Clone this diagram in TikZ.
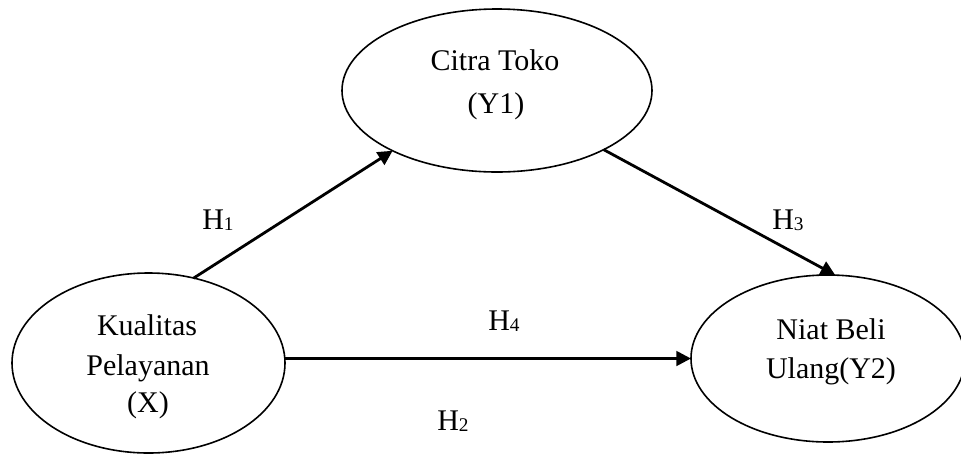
\documentclass[tikz,border=0pt]{standalone}
\usepackage{fontspec}
\setmainfont{Liberation Serif}
\usetikzlibrary{arrows.meta,shapes.geometric}
% hypothesis label: H with a small, slightly lowered index
\newcommand\hlab[1]{H\raisebox{-1.2pt}{\fontsize{14.5}{15}\selectfont #1}}
\begin{document}
\begin{tikzpicture}[x=0.75pt,y=-0.75pt,
  latent/.style={draw, ellipse, line width=1.2pt, inner sep=0pt, outer sep=0pt},
  link/.style={line width=2.1pt, -{Triangle[length=11pt,width=11pt]}},
  txt/.style={anchor=base, inner sep=0pt, font=\fontsize{22.5}{30}\selectfont},
  hyp/.style={anchor=base west, inner sep=0pt, font=\fontsize{22.5}{30}\selectfont},
]
\useasboundingbox (0,0) rectangle (961,455);

% constructs
\node[latent, minimum width=232.5pt, minimum height=122.25pt] (citra) at (497,90.5) {};
\node[latent, minimum width=204.75pt, minimum height=135pt] (kual) at (148.5,363) {};
\node[latent, minimum width=205.5pt, minimum height=125.25pt] (niat) at (828,358.5) {};

% construct names
\node[txt] (citraA) at (495,70) {Citra Toko};
\node[txt] (citraB) at (496,113) {(Y1)};
\node[txt] (kualA) at (147,335) {Kualitas};
\node[txt] (kualB) at (148,375) {Pelayanan};
\node[txt] (kualC) at (148,412) {(X)};
\node[txt] (niatA) at (831,339) {Niat Beli};
\node[txt] (niatB) at (831,378) {Ulang(Y2)};

% paths
\draw[link] (kual.62) -- (citra.210.8);
\draw[link] (citra.331.2) -- (niat.85);
\draw[link] (kual.east |- niat.west) -- (niat.west);

% hypothesis labels
\node[hyp] (h1) at (202,229) {\hlab{1}};
\node[hyp] (h3) at (772,229) {\hlab{3}};
\node[hyp] (h4) at (488,330) {\hlab{4}};
\node[hyp] (h2) at (437,430) {\hlab{2}};
\end{tikzpicture}
\end{document}
